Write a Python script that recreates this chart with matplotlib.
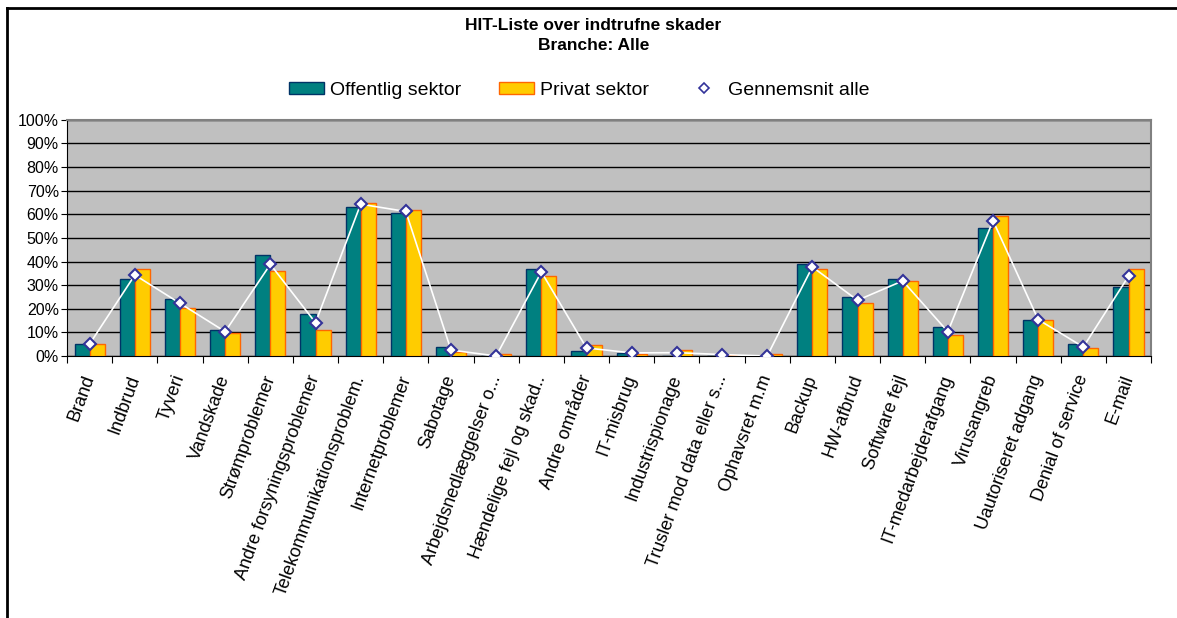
import matplotlib.pyplot as plt
from matplotlib.lines import Line2D
from matplotlib.ticker import FuncFormatter, FixedLocator
import numpy as np

plt.rcParams['font.family'] = ['Liberation Sans', 'DejaVu Sans']

kategorier = ['Brand', 'Indbrud', 'Tyveri', 'Vandskade', 'Strømproblemer',
              'Andre forsyningsproblemer', 'Telekommunikationsproblem.',
              'Internetproblemer', 'Sabotage', 'Arbejdsnedlæggelser o...',
              'Hændelige fejl og skad..', 'Andre områder', 'IT-misbrug',
              'Industrispionage', 'Trusler mod data eller s...', 'Ophavsret m.m',
              'Backup', 'HW-afbrud', 'Software fejl', 'IT-medarbejderafgang',
              'Virusangreb', 'Uautoriseret adgang', 'Denial of service', 'E-mail']

# andel i procent
offentlig = [5.1, 32.5, 24.3, 10.9, 42.7, 17.8, 63.0, 60.5, 3.8, 0.0, 37.0, 2.0,
             1.4, 0.0, 0.0, 0.0, 38.8, 24.9, 32.5, 12.1, 54.1, 15.4, 5.1, 29.4]
privat = [5.1, 36.9, 20.5, 9.6, 36.2, 10.9, 65.0, 61.9, 1.7, 0.7, 33.9, 4.5,
          1.0, 2.7, 0.6, 0.8, 36.9, 22.3, 31.8, 9.0, 59.2, 15.4, 3.4, 36.9]
gennemsnit = [5.1, 34.3, 22.3, 10.3, 38.8, 14.1, 64.3, 61.2, 2.5, 0.0, 35.6, 3.4,
              1.3, 1.4, 0.6, 0.0, 37.7, 23.6, 31.8, 10.3, 57.3, 15.4, 3.8, 33.8]

x = np.arange(len(kategorier))
w = 1 / 3

fig = plt.figure(figsize=(11.77, 6.18), dpi=100)
ax = fig.add_axes([0.057, 0.424, 0.921, 0.382])
ax.set_facecolor('#C0C0C0')

ax.bar(x - w / 2, offentlig, w, color='#008080', edgecolor='#003366',
       linewidth=1, label='Offentlig sektor', zorder=3)
ax.bar(x + w / 2, privat, w, color='#FFCC00', edgecolor='#FF6600',
       linewidth=1, label='Privat sektor', zorder=3)
ax.plot(x, gennemsnit, color='white', linewidth=1.2, zorder=4)
ax.plot(x, gennemsnit, linestyle='none', marker='D', markersize=6.5,
        markerfacecolor='white', markeredgecolor='#333399', markeredgewidth=1.5,
        zorder=5)

ax.set_xlim(-0.5, len(kategorier) - 0.5)
ax.set_ylim(0, 100)
ax.set_yticks(np.arange(0, 101, 10))
ax.yaxis.set_major_formatter(FuncFormatter(lambda v, p: '%d%%' % v))
ax.yaxis.grid(True, color='black', linewidth=1, zorder=1)
ax.set_axisbelow(True)

ax.xaxis.set_major_locator(FixedLocator(np.arange(-0.5, len(kategorier), 1)))
ax.xaxis.set_major_formatter(FuncFormatter(lambda v, p: ''))
ax.set_xticks(x, minor=True)
ax.set_xticklabels(kategorier, minor=True, rotation=70, ha='right',
                   va='center', rotation_mode='anchor', fontsize=13)
ax.tick_params(axis='x', which='minor', length=0, pad=14)
ax.tick_params(axis='x', which='major', direction='out', length=5, color='black')
ax.tick_params(axis='y', direction='out', length=4, labelsize=11.5, pad=2)

for s in ('top', 'right'):
    ax.spines[s].set_color('#808080')
    ax.spines[s].set_linewidth(1.5)
ax.spines['left'].set_color('black')
ax.spines['bottom'].set_color('black')

fig.text(0.504, 0.958, 'HIT-Liste over indtrufne skader', ha='center',
         va='center', fontsize=12.5, fontweight='bold')
fig.text(0.504, 0.926, 'Branche: Alle', ha='center', va='center',
         fontsize=12.5, fontweight='bold')

snit = Line2D([], [], linestyle='none', marker='D', markersize=5,
              markerfacecolor='white', markeredgecolor='#333399',
              markeredgewidth=1.2, label='Gennemsnit alle')
handles, labels = ax.get_legend_handles_labels()
fig.legend(handles + [snit], labels + ['Gennemsnit alle'], loc='center',
           bbox_to_anchor=(0.492, 0.854), ncol=3, frameon=False, fontsize=14,
           handlelength=1.8, handleheight=0.6, columnspacing=1.9,
           handletextpad=0.35)

# ramme om diagramomraadet
fig.add_artist(Line2D([7 / 1177, 1.0], [1 - 8 / 618] * 2, color='black',
                      linewidth=2, transform=fig.transFigure))
fig.add_artist(Line2D([7 / 1177] * 2, [0.0, 1 - 8 / 618], color='black',
                      linewidth=2, transform=fig.transFigure))

fig.savefig('out.png', dpi=100)
